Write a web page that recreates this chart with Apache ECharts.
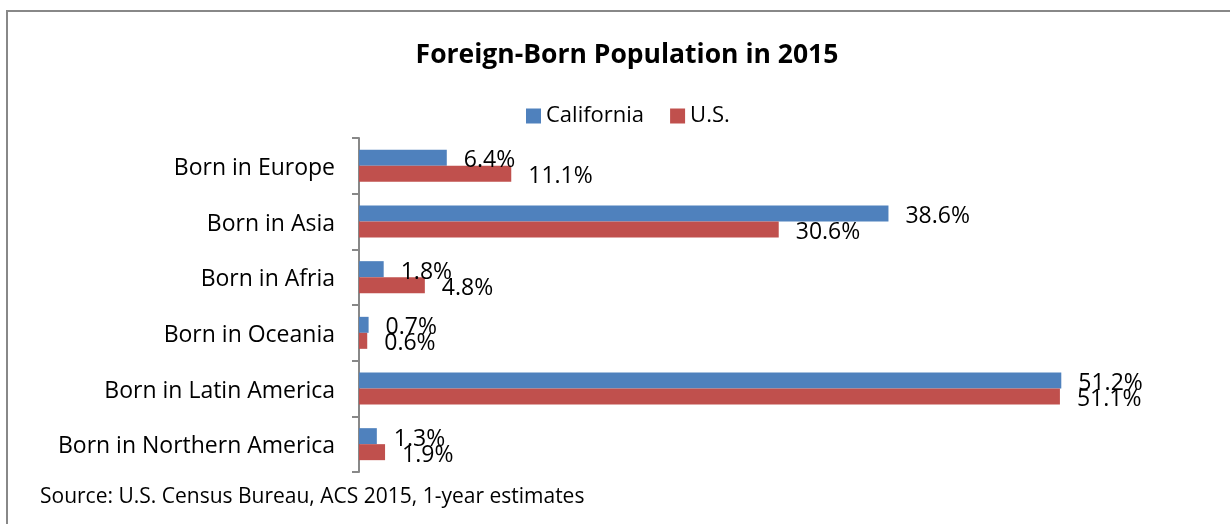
<!DOCTYPE html>
<html>
<head>
<meta charset="utf-8">
<script src="https://cdn.jsdelivr.net/npm/echarts@6/dist/echarts.min.js"></script>
<style>
  html, body { margin: 0; padding: 0; background: #fff; }
  #chart { width: 1230px; height: 524px; }
</style>
</head>
<body>
<div id="chart"></div>
<script>
const categories = ['Born in Europe', 'Born in Asia', 'Born in Afria', 'Born in Oceania', 'Born in Latin America', 'Born in Northern America'];
const californiaValues = [6.4, 38.6, 1.8, 0.7, 51.2, 1.3];
const usValues = [11.1, 30.6, 4.8, 0.6, 51.1, 1.9];

const chart = echarts.init(document.getElementById('chart'));
const font = '"Open Sans", "Noto Sans", sans-serif';

const labelStyle = {
    show: true,
    position: 'right',
    distance: 17,
    fontSize: 23,
    fontFamily: font,
    color: '#000',
    formatter: p => p.value.toFixed(1) + '%'
};

const option = {
    animation: false,
    title: {
        text: 'Foreign-Born Population in 2015',
        left: 622,
        textAlign: 'center',
        top: 37,
        textStyle: { fontSize: 26.5, fontWeight: 'bold', fontFamily: font, color: '#000' }
    },
    legend: {
        data: ['California', 'U.S.'],
        left: 521,
        top: 100,
        itemWidth: 15,
        itemHeight: 15,
        itemGap: 26,
        icon: 'rect',
        textStyle: { fontSize: 22, fontFamily: font, color: '#000' }
    },
    grid: { left: 359, top: 138, width: 823, height: 334, containLabel: false },
    xAxis: {
        type: 'value',
        min: 0,
        max: 60,
        show: false
    },
    yAxis: {
        type: 'category',
        data: categories,
        inverse: true,
        axisLine: { show: true, lineStyle: { color: '#888', width: 2 } },
        axisTick: { show: true, length: 7, lineStyle: { color: '#888', width: 2 } },
        axisLabel: {
            margin: 24,
            formatter: v => '{c|' + v + '}',
            rich: {
                c: { fontSize: 23, fontFamily: font, color: '#000', padding: [5, 0, 0, 0] }
            }
        }
    },
    series: [
        {
            name: 'California',
            type: 'bar',
            data: californiaValues,
            barWidth: 16,
            barGap: '0%',
            itemStyle: { color: '#4F81BD' },
            label: Object.assign({}, labelStyle, { offset: [0, 3] })
        },
        {
            name: 'U.S.',
            type: 'bar',
            data: usValues,
            barWidth: 16,
            barGap: '0%',
            itemStyle: { color: '#C0504D' },
            label: Object.assign({}, labelStyle, { offset: [0, 3] })
        }
    ],
    graphic: [
        {
            type: 'rect',
            shape: { x: 7, y: 11, width: 1400, height: 700 },
            style: { fill: 'none', stroke: '#888', lineWidth: 2 },
            silent: true
        },
        {
            type: 'text',
            left: 40,
            top: 487,
            style: {
                text: 'Source: U.S. Census Bureau, ACS 2015, 1-year estimates',
                fontSize: 21,
                fontFamily: font,
                fill: '#000'
            }
        }
    ]
};

chart.setOption(option);
window.addEventListener('resize', () => chart.resize());
</script>
</body>
</html>
